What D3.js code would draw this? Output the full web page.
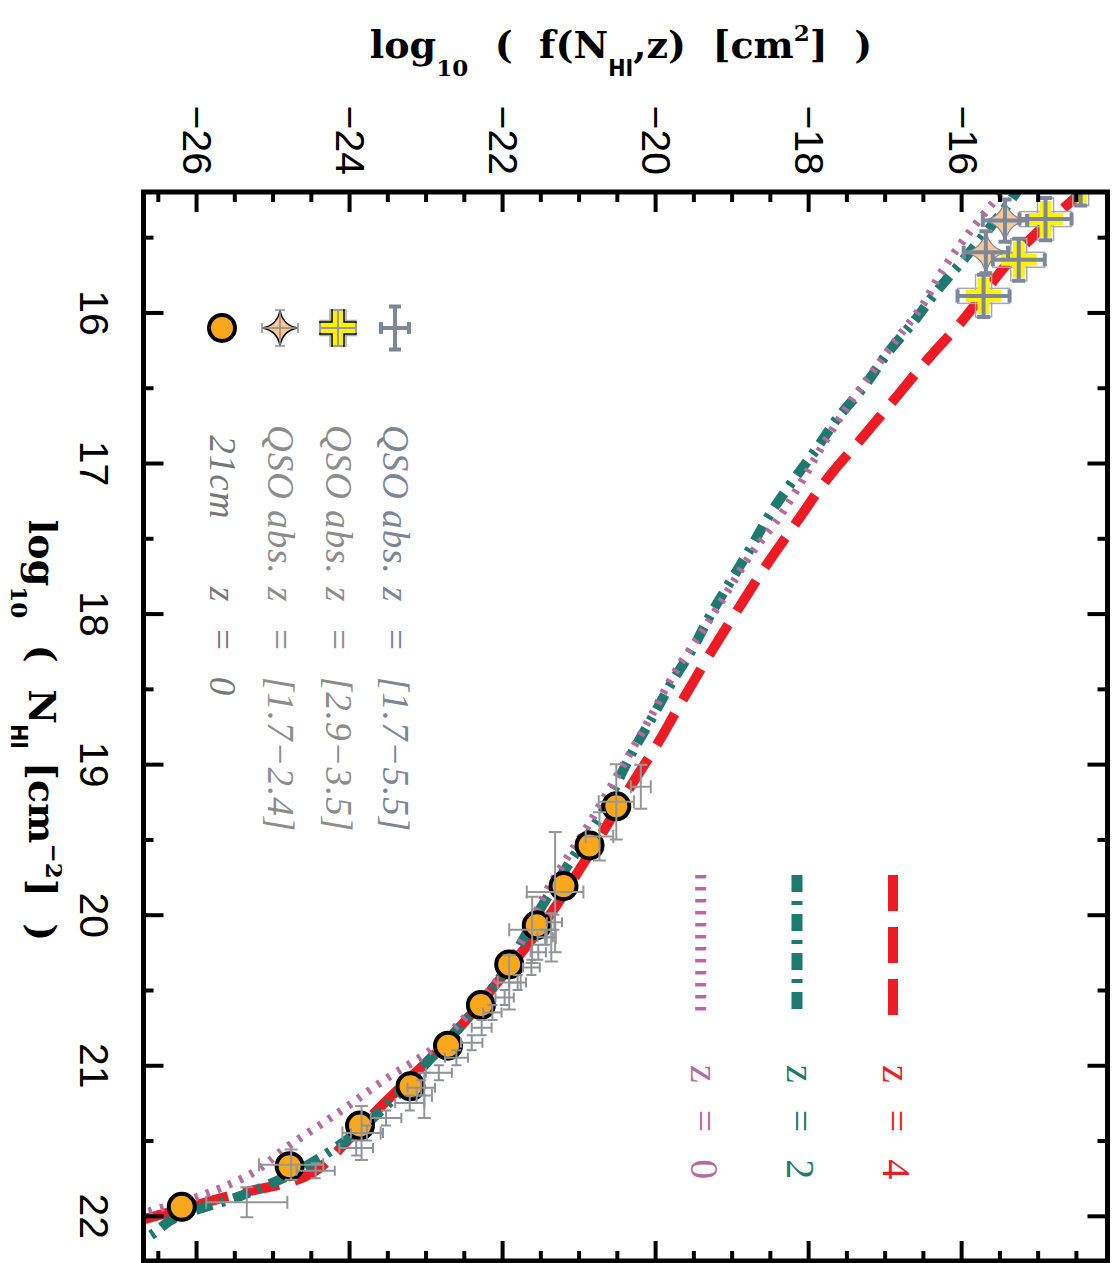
<!DOCTYPE html>
<html>
<head>
<meta charset="utf-8">
<script src="https://cdn.jsdelivr.net/npm/d3@7"></script>
<style>
  body { margin: 0; background: #fff; }
  text { white-space: pre; }
</style>
</head>
<body>
<svg id="chart" width="1115" height="1263"></svg>
<script>
// ---- axis ranges and ticks ----
const nhiDomain = [15.2, 22.3];
const fDomain = [-26.7, -14.1];
const nhiMajor = [16, 17, 18, 19, 20, 21, 22];
const nhiMinor = [15.5, 16.5, 17.5, 18.5, 19.5, 20.5, 21.5];
const fMajor = [-26, -24, -22, -20, -18, -16];
const fMinor = [-26.5, -25.5, -25, -24.5, -23.5, -23, -22.5, -21.5, -21, -20.5,
                -19.5, -19, -18.5, -17.5, -17, -16.5, -15.5, -15, -14.5];

// ---- model curves: [log N_HI, log f] ----
const modelZ4 = [[15.15,-14.32],[15.57,-15.22],[16.11,-16.09],[16.30,-16.43],[16.58,-16.89],
  [16.84,-17.32],[17.09,-17.74],[17.39,-18.16],[17.68,-18.56],[17.98,-18.94],[18.28,-19.31],
  [18.58,-19.66],[18.88,-20.00],[19.08,-20.25],[19.70,-21.00],[20.01,-21.40],[20.41,-22.01],
  [20.96,-22.96],[21.11,-23.27],[21.26,-23.57],[21.53,-24.09],[21.60,-24.22],[21.77,-24.75],
  [21.85,-25.44],[21.91,-25.88],[22.02,-26.68],[22.05,-26.9]];
const modelZ2 = [[15.15,-15.22],[15.21,-15.30],[15.66,-16.00],[15.87,-16.35],[16.06,-16.63],
  [16.26,-16.96],[16.49,-17.28],[16.71,-17.64],[16.91,-17.91],[17.11,-18.20],[17.33,-18.50],
  [17.56,-18.76],[17.78,-19.02],[18.00,-19.28],[18.24,-19.53],[18.47,-19.81],[18.69,-20.05],
  [18.92,-20.31],[19.38,-20.77],[19.63,-21.10],[19.90,-21.44],[20.49,-22.14],[20.94,-22.92],
  [21.27,-23.53],[21.53,-24.14],[21.75,-24.88],[21.87,-25.44],[22.00,-26.23],[22.15,-26.68],
  [22.20,-26.9]];
const modelZ0 = [[15.15,-15.40],[15.20,-15.48],[15.47,-15.91],[15.73,-16.27],[15.96,-16.53],
  [16.16,-16.83],[16.40,-17.18],[16.64,-17.52],[16.89,-17.83],[17.15,-18.13],[17.36,-18.39],
  [17.62,-18.78],[17.84,-19.05],[18.12,-19.40],[18.37,-19.73],[18.73,-20.12],[19.05,-20.48],
  [19.39,-20.87],[19.85,-21.44],[20.16,-21.74],[20.41,-22.04],[20.74,-22.61],[20.89,-22.92],
  [21.09,-23.53],[21.31,-24.14],[21.53,-24.79],[21.76,-25.44],[21.89,-26.09],[21.98,-26.68],
  [22.00,-26.8]];

// ---- 21cm survey, z = 0 ----
const hi21N = [19.28, 19.54, 19.81, 20.07, 20.33, 20.60, 20.87, 21.14, 21.40, 21.67, 21.94];
const hi21F = [-20.52, -20.87, -21.21, -21.56, -21.92, -22.29, -22.72, -23.21, -23.87, -24.79, -26.20];

// ---- QSO absorbers z = [1.7-5.5]: [log N, log f, dN, df] ----
const qsoWide = [[20.05,-21.33,0.05,0.10],[20.15,-21.45,0.05,0.10],[20.25,-21.54,0.05,0.10],
  [20.35,-21.63,0.05,0.11],[20.45,-21.81,0.05,0.11],[20.55,-21.98,0.05,0.12],[20.65,-22.14,0.05,0.12],
  [20.75,-22.28,0.05,0.13],[20.85,-22.41,0.05,0.14],[20.95,-22.61,0.05,0.15],[21.05,-22.84,0.05,0.17],
  [21.15,-23.07,0.05,0.18],[21.25,-23.22,0.05,0.19],[21.35,-23.53,0.05,0.2],[21.45,-23.78,0.05,0.21],
  [21.55,-23.92,0.05,0.22],[21.70,-24.45,0.05,0.25]];
// individual measurements with larger uncertainties
const qsoSparse = [[19.15,-20.20,0.146,0.13],[19.25,-20.52,0.25,0.23],[19.48,-20.74,0.16,0.18],
  [19.85,-21.32,0.40,0.37],[20.10,-21.62,0.22,0.30],[20.15,-21.37,0.16,0.06],[20.45,-21.92,0.18,0.15],
  [21.20,-23.03,0.15,0.10],[21.45,-23.85,0.18,0.25],[21.66,-24.77,0.10,0.42],[21.91,-25.35,0.10,0.53]];

// ---- QSO absorbers z = [2.9-3.5] and z = [1.7-2.4] ----
const qsoHighZ = [[15.15,-14.45,0.14,0.34],[15.38,-14.91,0.14,0.34],[15.65,-15.26,0.14,0.34],[15.89,-15.72,0.14,0.34]];
const qsoLowZ = [[15.39,-15.44,0.14,0.29],[15.60,-15.69,0.14,0.29]];

// ---- colours ----
const cZ4 = '#ed1c24', cZ2 = '#1e7a6e', cZ0 = '#b66aa2';
const cSlate = '#7d8797', cGray = '#969696', cBox = '#a3a9b5';

// ---- layout (plot drawn unrotated, then turned a quarter clockwise) ----
const W = 1069, H = 964;
const svg = d3.select('#chart');
const g = svg.append('g').attr('transform', 'translate(1107.5,192) rotate(90)');
const x = d3.scaleLinear().domain(nhiDomain).range([0, W]);
const y = d3.scaleLinear().domain(fDomain).range([H, 0]);

g.append('clipPath').attr('id', 'plotClip').append('rect').attr('width', W).attr('height', H);
const plot = g.append('g').attr('clip-path', 'url(#plotClip)');

// model curves
const line = d3.line().x(d => x(d[0])).y(d => y(d[1])).curve(d3.curveMonotoneX);
plot.append('path').datum(modelZ4).attr('d', line).attr('fill', 'none')
  .attr('stroke', cZ4).attr('stroke-width', 10).attr('stroke-dasharray', '36 16');
plot.append('path').datum(modelZ2).attr('d', line).attr('fill', 'none')
  .attr('stroke', cZ2).attr('stroke-width', 10).attr('stroke-dasharray', '17 9 4 9');
plot.append('path').datum(modelZ0).attr('d', line).attr('fill', 'none')
  .attr('stroke', cZ0).attr('stroke-width', 8).attr('stroke-dasharray', '3.5 8.5');

// error-bar path for [N, f, dN, df]
function errPath(d, cap) {
  const cx = x(d[0]), cy = y(d[1]);
  const x0 = x(d[0] - d[2]), x1 = x(d[0] + d[2]);
  const y0 = y(d[1] - d[3]), y1 = y(d[1] + d[3]);
  const c = cap / 2;
  return `M${x0},${cy}H${x1}M${x0},${cy - c}V${cy + c}M${x1},${cy - c}V${cy + c}` +
         `M${cx},${y0}V${y1}M${cx - c},${y0}H${cx + c}M${cx - c},${y1}H${cx + c}`;
}

// 21cm points
const hi21 = hi21N.map((n, i) => [n, hi21F[i]]);
plot.append('g').selectAll('circle').data(hi21).join('circle')
  .attr('cx', d => x(d[0])).attr('cy', d => y(d[1])).attr('r', 13)
  .attr('fill', '#f9a81b').attr('stroke', '#000').attr('stroke-width', 4);

// QSO absorber error bars
plot.append('g').selectAll('path').data(qsoSparse).join('path')
  .attr('d', d => errPath(d, 13)).attr('fill', 'none').attr('stroke', cGray).attr('stroke-width', 2);
plot.append('g').selectAll('path').data(qsoWide).join('path')
  .attr('d', d => errPath(d, 10)).attr('fill', 'none').attr('stroke', '#8c929c').attr('stroke-width', 2);

// plus-shaped marker with its error boxes
function crossMarker(sel, cx, cy, hu, hv, outline) {
  sel.append('rect').attr('x', cx - hu).attr('y', cy - 8).attr('width', 2 * hu).attr('height', 16)
    .attr('fill', 'none').attr('stroke', cBox).attr('stroke-width', 1.5);
  sel.append('rect').attr('x', cx - 7.5).attr('y', cy - hv).attr('width', 15).attr('height', 2 * hv)
    .attr('fill', 'none').attr('stroke', cBox).attr('stroke-width', 1.5);
  const a = 18, t = 6;
  sel.append('path')
    .attr('d', `M${cx - t},${cy - a}H${cx + t}V${cy - t}H${cx + a}V${cy + t}H${cx + t}V${cy + a}` +
               `H${cx - t}V${cy + t}H${cx - a}V${cy - t}H${cx - t}Z`)
    .attr('fill', '#fff200').attr('stroke', outline || 'none').attr('stroke-width', 1.5);
}
// four-pointed star marker
function starPath(cx, cy, r) {
  const k = r * 0.14;
  return `M${cx},${cy - r}Q${cx + k},${cy - k} ${cx + r},${cy}Q${cx + k},${cy + k} ${cx},${cy + r}` +
         `Q${cx - k},${cy + k} ${cx - r},${cy}Q${cx - k},${cy - k} ${cx},${cy - r}Z`;
}

const hiZ = plot.append('g');
qsoHighZ.forEach(d => crossMarker(hiZ, x(d[0]), y(d[1]), x(d[0] + d[2]) - x(d[0]), y(d[1]) - y(d[1] + d[3])));
const loZ = plot.append('g');
qsoLowZ.forEach(d => {
  loZ.append('path').attr('d', starPath(x(d[0]), y(d[1]), 22))
    .attr('fill', '#f8c794').attr('stroke', cSlate).attr('stroke-width', 1.2);
});
plot.append('g').selectAll('path').data(qsoHighZ.concat(qsoLowZ)).join('path')
  .attr('d', d => errPath(d, 13)).attr('fill', 'none').attr('stroke', cSlate).attr('stroke-width', 4);

// ---- axes ----
const tickFont = '"Liberation Sans", Arial, sans-serif';
function styleAxis(a, w) {
  a.select('.domain').remove();
  a.selectAll('line').attr('stroke', '#000').attr('stroke-width', w);
  a.selectAll('text').attr('font-family', tickFont).attr('font-size', 41).attr('fill', '#000');
}
g.append('g').attr('transform', `translate(0,${H})`)
  .call(d3.axisBottom(x).tickValues(nhiMajor).tickSize(-20).tickPadding(34).tickFormat(d3.format('d')))
  .call(a => styleAxis(a, 4));
g.append('g').attr('transform', `translate(0,${H})`)
  .call(d3.axisBottom(x).tickValues(nhiMinor).tickSize(-10).tickFormat(''))
  .call(a => styleAxis(a, 4));
g.append('g')
  .call(d3.axisTop(x).tickValues(nhiMajor).tickSize(-20).tickFormat(''))
  .call(a => styleAxis(a, 4));
g.append('g')
  .call(d3.axisTop(x).tickValues(nhiMinor).tickSize(-10).tickFormat(''))
  .call(a => styleAxis(a, 4));
g.append('g')
  .call(d3.axisLeft(y).tickValues(fMajor).tickSize(-20).tickPadding(17).tickFormat(d3.format('d')))
  .call(a => styleAxis(a, 4));
g.append('g')
  .call(d3.axisLeft(y).tickValues(fMinor).tickSize(-10).tickFormat(''))
  .call(a => styleAxis(a, 4));
g.append('g').attr('transform', `translate(${W},0)`)
  .call(d3.axisRight(y).tickValues(fMajor).tickSize(-20).tickFormat(''))
  .call(a => styleAxis(a, 4));
g.append('g').attr('transform', `translate(${W},0)`)
  .call(d3.axisRight(y).tickValues(fMinor).tickSize(-10).tickFormat(''))
  .call(a => styleAxis(a, 4));

g.append('rect').attr('width', W).attr('height', H)
  .attr('fill', 'none').attr('stroke', '#000').attr('stroke-width', 5);

// ---- axis titles ----
const titleFont = '"DejaVu Serif", serif';
function titleText(sel, parts) {
  const t = sel.append('text').attr('text-anchor', 'middle').attr('font-family', titleFont)
    .attr('font-weight', 'bold').attr('font-size', 38).attr('fill', '#000');
  parts.forEach(p => {
    const s = t.append('tspan').text(p.t);
    if (p.sub) s.attr('font-size', 23).attr('dy', 18);
    if (p.hi) s.attr('font-family', '"DejaVu Sans Condensed", "DejaVu Sans", sans-serif');
    if (p.sup) s.attr('font-size', 23).attr('dy', -17);
    if (p.back) s.attr('dy', p.back);
  });
  return t;
}
titleText(g.append('g').attr('transform', `translate(-134,${H / 2 + 4.5}) rotate(-90)`), [
  { t: 'log' }, { t: '10', sub: true }, { t: '  (  f(N', back: -18 }, { t: 'HI', sub: true, hi: true },
  { t: ',z)  [cm', back: -18 }, { t: '2', sup: true }, { t: ']  )', back: 17 }
]);
titleText(g.append('g').attr('transform', `translate(${W / 2 + 4},${H + 115})`), [
  { t: 'log' }, { t: '10', sub: true }, { t: '  (  N', back: -18 }, { t: 'HI', sub: true, hi: true },
  { t: ' [cm', back: -18 }, { t: '−2', sup: true }, { t: ']  )', back: 17 }
]);

// ---- legend: model curves ----
const curveLegend = [
  { v: 214.5, color: cZ4, w: 10, dash: '36 16', label: 'z = 4' },
  { v: 310.5, color: cZ2, w: 11, dash: '17 9 4 9', label: 'z = 2' },
  { v: 406.8, color: cZ0, w: 11, dash: '3.5 8.5', label: 'z = 0' }
];
curveLegend.forEach(d => {
  g.append('line').attr('x1', 683).attr('x2', 823).attr('y1', d.v).attr('y2', d.v)
    .attr('stroke', d.color).attr('stroke-width', d.w).attr('stroke-dasharray', d.dash);
  g.append('text').attr('x', 873).attr('y', d.v + 10).attr('fill', d.color)
    .attr('font-family', '"Liberation Serif", serif').attr('font-size', 40)
    .attr('word-spacing', 17).text(d.label);
});

// ---- legend: data sets ----
const legU = 136;
const rows = [
  { v: 712.5, color: '#7b8596', name: 'QSO abs.', zval: 'z = [1.7−5.5]' },
  { v: 769.5, color: '#8c8c8c', name: 'QSO abs.', zval: 'z = [2.9−3.5]' },
  { v: 827.5, color: '#8c8c8c', name: 'QSO abs.', zval: 'z = [1.7−2.4]' },
  { v: 885.5, color: '#777777', name: ' 21cm', zval: 'z = 0' }
];
const leg = g.append('g');
leg.append('path').attr('d', errPath([x.invert(legU), y.invert(712.5), x.invert(legU + 21.5) - x.invert(legU), y.invert(712.5 - 14) - y.invert(712.5)], 12))
  .attr('fill', 'none').attr('stroke', cSlate).attr('stroke-width', 4);
crossMarker(leg, legU, 769.5, 18, 18, '#000');
leg.append('path').attr('d', errPath([x.invert(legU), y.invert(769.5), x.invert(legU + 18) - x.invert(legU), y.invert(769.5 - 18) - y.invert(769.5)], 10))
  .attr('fill', 'none').attr('stroke', '#9a9a9a').attr('stroke-width', 2);
leg.append('path').attr('d', starPath(legU, 827.5, 18))
  .attr('fill', '#f8c794').attr('stroke', '#000').attr('stroke-width', 1.5);
leg.append('path').attr('d', errPath([x.invert(legU), y.invert(827.5), x.invert(legU + 18) - x.invert(legU), y.invert(827.5 - 18) - y.invert(827.5)], 10))
  .attr('fill', 'none').attr('stroke', '#8c8c8c').attr('stroke-width', 1.5);
leg.append('circle').attr('cx', legU).attr('cy', 885.5).attr('r', 13)
  .attr('fill', '#f9a81b').attr('stroke', '#000').attr('stroke-width', 4);

rows.forEach(r => {
  leg.append('text').attr('x', 233).attr('y', r.v + 12).attr('fill', r.color)
    .attr('font-family', '"Liberation Serif", serif').attr('font-style', 'italic').attr('font-size', 37)
    .attr('letter-spacing', 1).text(r.name);
  leg.append('text').attr('x', 395).attr('y', r.v + 12).attr('fill', r.color)
    .attr('font-family', '"Liberation Serif", serif').attr('font-style', 'italic').attr('font-size', 37)
    .attr('word-spacing', 14).attr('letter-spacing', 1).text(r.zval);
});
</script>
</body>
</html>
